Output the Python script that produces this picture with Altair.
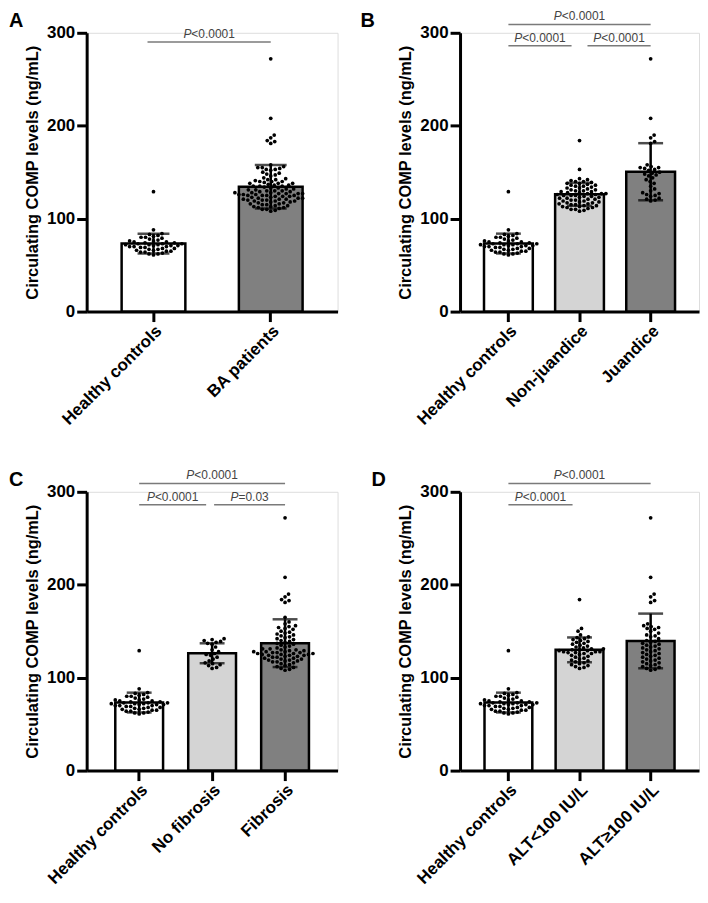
import altair as alt
import pandas as pd

FONT = "Liberation Sans"

# ---------------- data (ng/mL) ----------------
healthy = [129, 88, 84, 83, 82, 81, 80, 80, 79, 78, 77, 76, 76, 75, 75, 74, 74, 73, 73, 73,
           72, 72, 72, 71, 71, 71, 70, 70, 70, 69, 69, 68, 68, 67, 67, 66, 66, 65, 65, 64,
           64, 63, 62, 62, 61]
non_jaundice = [184, 153, 143, 142, 141, 140, 140, 139, 138, 138, 137, 136, 136, 135, 135,
                134, 133, 133, 132, 131, 131, 130, 130, 129, 129, 128, 128, 127, 127, 127,
                126, 126, 125, 125, 125, 124, 124, 123, 123, 122, 122, 121, 121, 120, 120,
                119, 119, 118, 118, 117, 117, 116, 116, 115, 115, 114, 114, 113, 113, 112,
                112, 111, 110, 110, 109, 108]
jaundice = [272, 208, 190, 187, 183, 181, 158, 156, 155, 155, 154, 153, 152, 150, 149, 148,
            147, 146, 144, 142, 140, 138, 135, 132, 130, 128, 127, 126, 125, 124, 122, 121,
            120, 119]
ba_patients = non_jaundice + jaundice
no_fibrosis = [142, 141, 140, 139, 138, 137, 136, 133, 130, 128, 126, 125, 124, 122, 120,
               118, 116, 115, 114, 113, 111, 110]
fibrosis = [272, 208, 190, 187, 184, 183, 181, 165, 160, 158, 156, 155, 154, 153, 152, 150,
            149, 148, 147, 146, 145, 144, 143, 142, 141, 140, 139, 138, 137, 136, 135, 134,
            133, 132, 131, 131, 130, 130, 129, 129, 128, 128, 127, 127, 126, 126, 125, 125,
            124, 124, 123, 123, 122, 122, 121, 121, 120, 120, 119, 119, 118, 118, 117, 117,
            116, 115, 114, 113, 112, 111, 110, 109, 108, 128, 127, 126, 125, 124]
alt_low = [184, 153, 150, 146, 144, 143, 142, 141, 140, 139, 138, 137, 136, 135, 134, 133,
           132, 131, 131, 130, 130, 129, 129, 128, 128, 128, 127, 127, 126, 126, 125, 124,
           123, 122, 121, 120, 119, 118, 117, 116, 115, 114, 113, 112, 111, 110]
alt_high = [272, 208, 190, 187, 183, 181, 158, 156, 155, 154, 153, 152, 150, 148, 146, 145,
            144, 142, 140, 139, 138, 137, 136, 135, 134, 133, 132, 131, 130, 129, 128, 127,
            126, 125, 124, 123, 122, 121, 120, 119, 118, 117, 116, 115, 114, 113, 112, 111,
            110, 109, 108]

cats_a = ["Healthy controls", "BA patients"]
cats_b = ["Healthy controls", "Non-juandice", "Juandice"]
cats_c = ["Healthy controls", "No fibrosis", "Fibrosis"]
cats_d = ["Healthy controls", "ALT<100 IU/L", "ALT≥100 IU/L"]

# (from group, to group, level, p-text, x offset, x2 offset)
brackets_a = [(0, 1, 290, "<0.0001", -6, 0)]
brackets_b = [(0, 2, 309, "<0.0001", 0, 0), (0, 1, 286, "<0.0001", 0, -8), (1, 2, 286, "<0.0001", 8, 0)]
brackets_c = [(0, 2, 309, "<0.0001", 0, 0), (0, 1, 286, "<0.0001", 0, -6), (1, 2, 286, "=0.03", 2, 0)]
brackets_d = [(0, 2, 309, "<0.0001", 0, 0), (0, 1, 286, "<0.0001", 0, -7)]

WHITE, LIGHT, DARK = "#ffffff", "#d4d4d4", "#808080"

H = 280
DOT = 4.4


def swarm(vals, pxper, d):
    order = sorted(range(len(vals)), key=lambda i: vals[i])
    placed = []
    offs = [0.0] * len(vals)
    cands = [0.0]
    for k in range(1, 300):
        cands += [k * 0.5, -k * 0.5]
    for i in order:
        y = vals[i] * pxper
        near = [(px, py) for px, py in placed if abs(py - y) < d]
        for c in cands:
            if all((c - px) ** 2 + (y - py) ** 2 >= d * d for px, py in near):
                break
        placed.append((c, y))
        offs[i] = c
    return offs


CW = {"P": 0.667, "<": 0.584, "=": 0.584, ".": 0.278}


def textw(s, fs):
    return sum(CW.get(ch, 0.556) for ch in s) * fs


def panel(letter, letter_x, cats, data, colors, width, po, bar, cap, brackets):
    n = len(cats)
    step = width / (n + 2 * po)
    xscale = alt.Scale(domain=cats, paddingInner=0, paddingOuter=po)
    xaxis = alt.Axis(title=None, labelAngle=-45, labelFontSize=17, labelFontWeight="bold",
                     labelColor="black", domainColor="black", domainWidth=3, tickColor="black",
                     tickWidth=3, tickSize=10, labelPadding=1, labelFont=FONT)
    yscale = alt.Scale(domain=[0, 300])
    yaxis = alt.Axis(title="Circulating COMP levels (ng/mL)", values=[0, 100, 200, 300],
                     titleFontSize=16.5, titleFontWeight="bold", titleColor="black", titleFont=FONT,
                     labelFontSize=17, labelFontWeight="bold", labelColor="black", labelFont=FONT,
                     domainColor="black", domainWidth=3, tickColor="black", tickWidth=3,
                     tickSize=10, labelPadding=2, titlePadding=6, grid=False)

    def X(field, **kw):
        return alt.X(f"{field}:N", scale=xscale, axis=xaxis, **kw)

    def Y(field):
        return alt.Y(f"{field}:Q", scale=yscale, axis=yaxis)

    rows = []
    for g, vals, col in zip(cats, data, colors):
        offs = swarm(vals, H / 300, DOT)
        for v, o in zip(vals, offs):
            rows.append({"group": g, "value": v, "off": o, "col": col})
    df = pd.DataFrame(rows)

    bars = alt.Chart(df).mark_bar(size=bar, stroke="black", strokeWidth=2.5).encode(
        x=X("group"),
        y=alt.Y("mean(value):Q", scale=yscale, axis=yaxis),
        fill=alt.Fill("col:N", scale=None),
    )
    pts = alt.Chart(df).mark_circle(size=14, color="black", opacity=1).encode(
        x=X("group"),
        xOffset=alt.XOffset("off:Q", scale=alt.Scale(domain=[-step / 2, step / 2], nice=False, zero=False)),
        y=Y("value"),
    )
    stats = alt.Chart(df).transform_aggregate(
        m="mean(value)", s="stdev(value)", groupby=["group"]
    ).transform_calculate(lo="datum.m - datum.s", hi="datum.m + datum.s")
    erule = stats.mark_rule(color="black", strokeWidth=2.5).encode(
        x=X("group"), y=Y("lo"), y2="hi:Q")
    cap_hi = stats.mark_tick(color="black", size=cap, thickness=2.5).encode(x=X("group"), y=Y("hi"))
    cap_lo = stats.mark_tick(color="black", size=cap, thickness=2.5).encode(x=X("group"), y=Y("lo"))

    layers = [bars, pts, erule, cap_hi, cap_lo]
    fs = 12
    for (i, j, lv, txt, o1, o2) in brackets:
        bdf = pd.DataFrame([{"a": cats[i], "b": cats[j], "lv": lv}])
        line = alt.Chart(bdf).mark_rule(color="#7a7a7a", strokeWidth=1.5, xOffset=o1, x2Offset=o2).encode(
            x=X("a"), x2="b:N", y=Y("lv"))
        if j - i == 2:
            mcat, bp = cats[i + 1], 0.5
        else:
            mcat, bp = cats[i], 1.0
        shift = (o1 + o2) / 2
        wp = textw("P", fs)
        wt = wp + textw(txt, fs)
        dx = wp - wt / 2 + shift
        tdf = pd.DataFrame([{"m": mcat, "lv": lv}])
        tp = alt.Chart(tdf).mark_text(text="P", fontStyle="italic", align="right", baseline="alphabetic",
                                      dx=dx, dy=-4, fontSize=fs, color="#444444", font=FONT).encode(
            x=X("m", bandPosition=bp), y=Y("lv"))
        tr = alt.Chart(tdf).mark_text(text=txt, align="left", baseline="alphabetic",
                                      dx=dx, dy=-4, fontSize=fs, color="#444444", font=FONT).encode(
            x=X("m", bandPosition=bp), y=Y("lv"))
        layers += [line, tp, tr]

    ldf = pd.DataFrame([{"lv": 306}])
    lab = alt.Chart(ldf).mark_text(text=letter, align="left", baseline="alphabetic", fontSize=20,
                                   fontWeight="bold", color="black", font=FONT).encode(
        x=alt.value(letter_x), y=Y("lv"))
    layers.append(lab)
    return alt.layer(*layers).properties(width=width, height=H)


pA = panel("A", -78, cats_a, [healthy, ba_patients], [WHITE, DARK], 252, 0.07, 64, 32, brackets_a)
pB = panel("B", -100, cats_b, [healthy, non_jaundice, jaundice], [WHITE, LIGHT, DARK], 240, 0.18, 49, 25, brackets_b)
pC = panel("C", -78, cats_c, [healthy, no_fibrosis, fibrosis], [WHITE, LIGHT, DARK], 252, 0.22, 48, 25, brackets_c)
pD = panel("D", -89, cats_d, [healthy, alt_low, alt_high], [WHITE, LIGHT, DARK], 240, 0.18, 48, 25, brackets_d)

row1 = alt.hconcat(pA, pB, spacing=21).resolve_scale(xOffset="independent", x="independent", y="independent")
row2 = alt.hconcat(pC, pD, spacing=32).resolve_scale(xOffset="independent", x="independent", y="independent")
chart = alt.vconcat(row1, row2, spacing=41).resolve_scale(
    xOffset="independent", x="independent", y="independent"
).properties(padding=0).configure_view(stroke=None).configure(font=FONT)

chart.save("out.html", embed_options={"renderer": "svg", "actions": False})
